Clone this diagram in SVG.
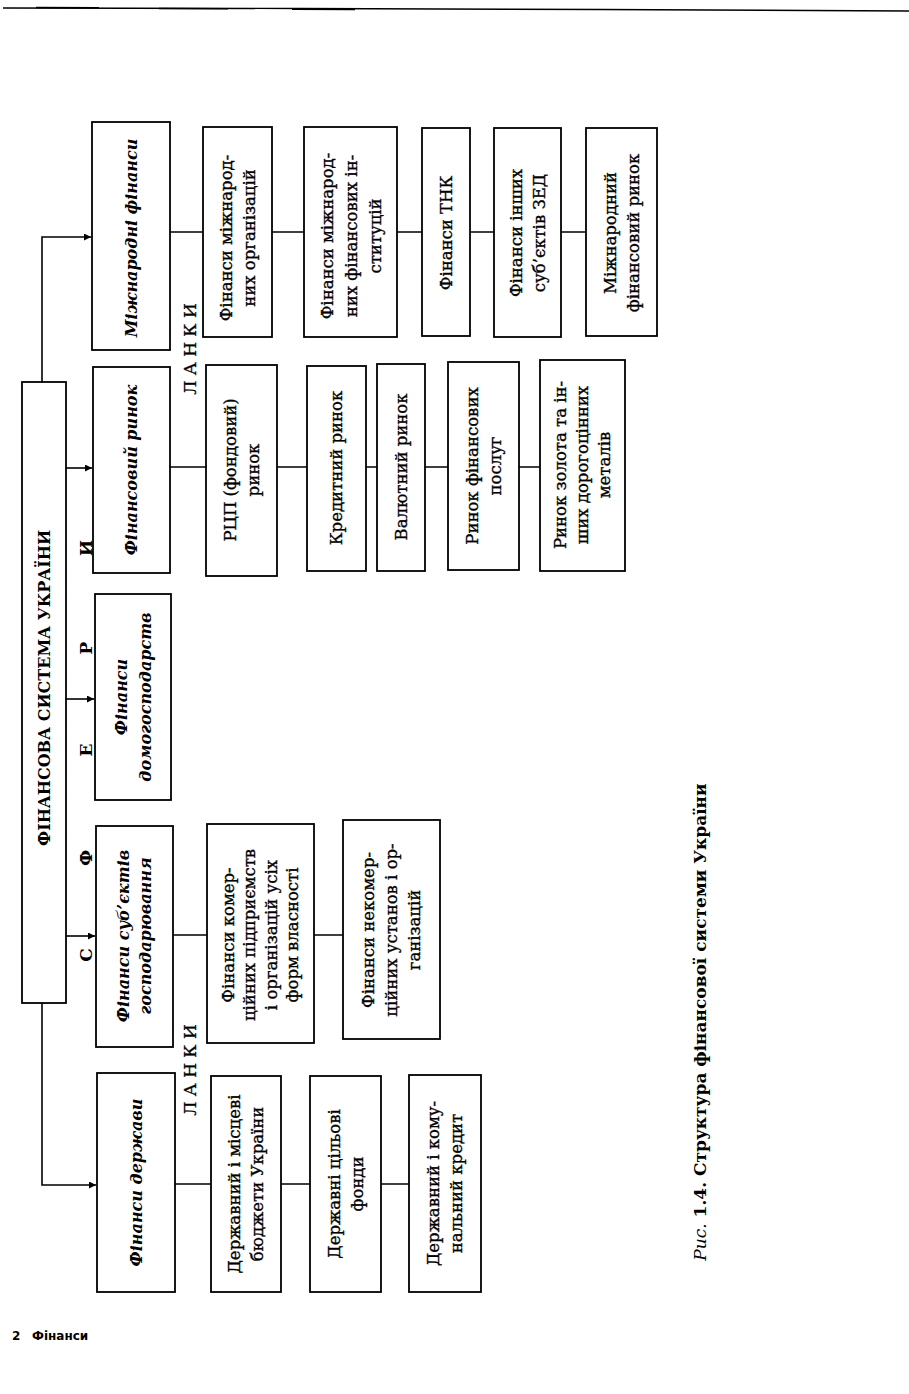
<svg xmlns="http://www.w3.org/2000/svg" width="909" height="1394" viewBox="0 0 909 1394">
<defs>
<style>
.box{fill:#fff;stroke:#000;stroke-width:1.8}
.ln{fill:none;stroke:#000;stroke-width:1.6}
.t{font-family:"DejaVu Serif","Liberation Serif",serif;font-size:16.5px;fill:#000;stroke:#000;stroke-width:0.35;text-anchor:middle;dominant-baseline:central}
.h{font-family:"DejaVu Serif","Liberation Serif",serif;font-size:16px;font-weight:bold;font-style:italic;fill:#000;text-anchor:middle;dominant-baseline:central}
.m{font-family:"DejaVu Serif","Liberation Serif",serif;font-size:16px;font-weight:bold;fill:#000;text-anchor:middle;dominant-baseline:central}
.l{font-family:"DejaVu Serif","Liberation Serif",serif;font-size:17px;fill:#000;stroke:#000;stroke-width:0.3;text-anchor:middle;dominant-baseline:central}
</style>
<marker id="ar" viewBox="0 0 10 10" refX="10" refY="5" markerWidth="7" markerHeight="7" markerUnits="userSpaceOnUse" orient="auto"><path d="M0,0 L10,5 L0,10 z" fill="#000"/></marker>
</defs>
<rect width="909" height="1394" fill="#fff"/>
<path d="M3,8 L300,8.5 L600,9.5 L909,11" fill="none" stroke="#000" stroke-width="1.4"/>
<path d="M36,7.5 L99,7.8 M159,8.5 L228,8.8 M292,9.3 L355,9.6" fill="none" stroke="#000" stroke-width="1.4"/>

<g id="connectors">
<path class="ln" d="M42,382 L42,237 L91,237" marker-end="url(#ar)"/>
<path class="ln" d="M42,1003 L42,1185 L96,1185" marker-end="url(#ar)"/>
<path class="ln" d="M66,468 L92,468" marker-end="url(#ar)"/>
<path class="ln" d="M66,699 L94,699" marker-end="url(#ar)"/>
<path class="ln" d="M66,936 L95,936" marker-end="url(#ar)"/>
<path class="ln" d="M170,232 L203,232 M272,232 L304,232 M397,232 L422,232 M470,232 L494,232 M561,232 L586,232"/>
<path class="ln" d="M170,467 L206,467 M277,467 L307,467 M366,467 L377,467 M425,467 L448,467 M519,467 L540,467"/>
<path class="ln" d="M173,935 L207,935 M314,935 L343,935"/>
<path class="ln" d="M175,1184 L211,1184 M281,1184 L310,1184 M381,1184 L409,1184"/>
</g>

<g id="main">
<rect class="box" x="22" y="382" width="44" height="621"/>
<text class="m" transform="translate(44,688) rotate(-90)">ФІНАНСОВА СИСТЕМА УКРАЇНИ</text>
</g>

<g id="letters">
<text class="m" style="font-size:17px" transform="translate(86,955) rotate(-90)">С</text>
<text class="m" style="font-size:17px" transform="translate(86,858) rotate(-90)">Ф</text>
<text class="m" style="font-size:17px" transform="translate(86,750) rotate(-90)">Е</text>
<text class="m" style="font-size:17px" transform="translate(86,648) rotate(-90)">Р</text>
<text class="m" style="font-size:17px" transform="translate(86,548) rotate(-90)">И</text>
<text class="l" transform="translate(190,349) rotate(-90)">Л А Н К И</text>
<text class="l" transform="translate(190,1070) rotate(-90)">Л А Н К И</text>
</g>

<g id="mf">
<rect class="box" x="92" y="122" width="78" height="228"/>
<text class="h" transform="translate(131,238) rotate(-90)">Міжнародні фінанси</text>
</g>
<g id="mf1">
<rect class="box" x="203" y="127" width="69" height="210"/>
<text class="t" transform="translate(226,238) rotate(-90)">Фінанси міжнарод-</text>
<text class="t" transform="translate(249,238) rotate(-90)">них організацій</text>
</g>
<g id="mf2">
<rect class="box" x="304" y="127" width="93" height="210"/>
<text class="t" transform="translate(327,236) rotate(-90)">Фінанси міжнарод-</text>
<text class="t" transform="translate(351,236) rotate(-90)">них фінансових ін-</text>
<text class="t" transform="translate(375,236) rotate(-90)">ституцій</text>
</g>
<g id="mf3">
<rect class="box" x="422" y="128" width="48" height="208"/>
<text class="t" transform="translate(446,233) rotate(-90)">Фінанси ТНК</text>
</g>
<g id="mf4">
<rect class="box" x="494" y="128" width="67" height="209"/>
<text class="t" transform="translate(516.5,233) rotate(-90)">Фінанси інших</text>
<text class="t" transform="translate(539.5,233) rotate(-90)">суб’єктів ЗЕД</text>
</g>
<g id="mf5">
<rect class="box" x="586" y="128" width="71" height="208"/>
<text class="t" transform="translate(610,233) rotate(-90)">Міжнародний</text>
<text class="t" transform="translate(633,233) rotate(-90)">фінансовий ринок</text>
</g>

<g id="fr">
<rect class="box" x="93" y="367" width="77" height="206"/>
<text class="h" transform="translate(131.5,470) rotate(-90)">Фінансовий ринок</text>
</g>
<g id="fr1">
<rect class="box" x="206" y="365" width="71" height="211"/>
<text class="t" transform="translate(230,470) rotate(-90)">РЦП (фондовий)</text>
<text class="t" transform="translate(253,470) rotate(-90)">ринок</text>
</g>
<g id="fr2">
<rect class="box" x="307" y="366" width="59" height="205"/>
<text class="t" transform="translate(336.5,468) rotate(-90)">Кредитний ринок</text>
</g>
<g id="fr3">
<rect class="box" x="377" y="364" width="48" height="207"/>
<text class="t" transform="translate(401,467) rotate(-90)">Валютний ринок</text>
</g>
<g id="fr4">
<rect class="box" x="448" y="362" width="71" height="208"/>
<text class="t" transform="translate(472,466) rotate(-90)">Ринок фінансових</text>
<text class="t" transform="translate(495,466) rotate(-90)">послуг</text>
</g>
<g id="fr5">
<rect class="box" x="540" y="360" width="85" height="211"/>
<text class="t" transform="translate(560.5,465) rotate(-90)">Ринок золота та ін-</text>
<text class="t" transform="translate(582.5,465) rotate(-90)">ших дорогоцінних</text>
<text class="t" transform="translate(604.5,465) rotate(-90)">металів</text>
</g>

<g id="dg">
<rect class="box" x="95" y="594" width="76" height="206"/>
<text class="h" transform="translate(121,697) rotate(-90)">Фінанси</text>
<text class="h" transform="translate(145,697) rotate(-90)">домогосподарств</text>
</g>

<g id="sg">
<rect class="box" x="96" y="826" width="77" height="221"/>
<text class="h" transform="translate(123.5,936) rotate(-90)">Фінанси суб’єктів</text>
<text class="h" transform="translate(145.5,936) rotate(-90)">господарювання</text>
</g>
<g id="sg1">
<rect class="box" x="207" y="824" width="107" height="219"/>
<text class="t" transform="translate(228,935) rotate(-90)">Фінанси комер-</text>
<text class="t" transform="translate(249.5,935) rotate(-90)">ційних підприємств</text>
<text class="t" transform="translate(271,935) rotate(-90)">і організацій усіх</text>
<text class="t" transform="translate(292.5,935) rotate(-90)">форм власності</text>
</g>
<g id="sg2">
<rect class="box" x="343" y="820" width="97" height="219"/>
<text class="t" transform="translate(368.5,930) rotate(-90)">Фінанси некомер-</text>
<text class="t" transform="translate(391.5,930) rotate(-90)">ційних установ і ор-</text>
<text class="t" transform="translate(414.5,930) rotate(-90)">ганізацій</text>
</g>

<g id="fd">
<rect class="box" x="97" y="1073" width="78" height="219"/>
<text class="h" transform="translate(136,1182.5) rotate(-90)">Фінанси держави</text>
</g>
<g id="fd1">
<rect class="box" x="211" y="1076" width="70" height="216"/>
<text class="t" transform="translate(234.5,1184) rotate(-90)">Державний і місцеві</text>
<text class="t" transform="translate(257.5,1184) rotate(-90)">бюджети України</text>
</g>
<g id="fd2">
<rect class="box" x="310" y="1076" width="71" height="216"/>
<text class="t" transform="translate(334,1184) rotate(-90)">Державні цільові</text>
<text class="t" transform="translate(357,1184) rotate(-90)">фонди</text>
</g>
<g id="fd3">
<rect class="box" x="409" y="1075" width="72" height="217"/>
<text class="t" transform="translate(433.5,1183.5) rotate(-90)">Державний і кому-</text>
<text class="t" transform="translate(456.5,1183.5) rotate(-90)">нальний кредит</text>
</g>

<g id="caption">
<text class="m" style="font-size:17px" transform="translate(700,1022) rotate(-90)"><tspan font-style="italic" font-weight="normal">Рис.</tspan> 1.4. Структура фінансової системи України</text>
</g>
<g id="footer">
<text x="12" y="1340" style="font-family:'DejaVu Sans','Liberation Sans',sans-serif;font-size:12px;font-weight:bold;fill:#000">2</text>
<text x="32" y="1340" style="font-family:'DejaVu Sans','Liberation Sans',sans-serif;font-size:12px;font-weight:bold;fill:#000">Фінанси</text>
</g>
</svg>
